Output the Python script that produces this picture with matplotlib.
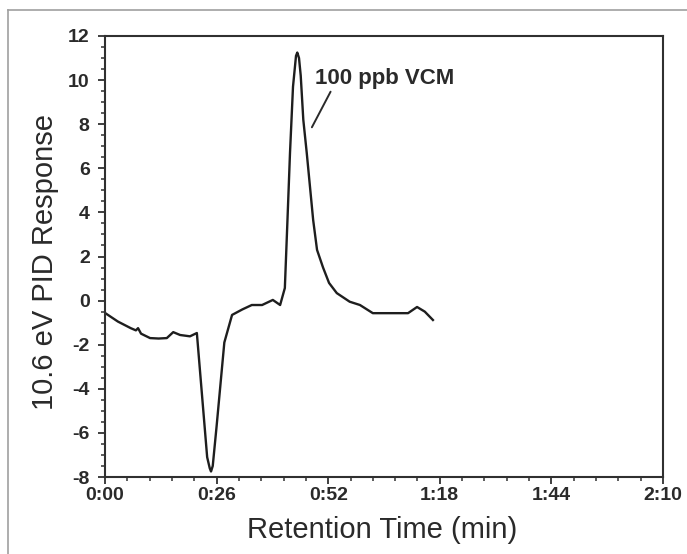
import matplotlib
matplotlib.use("Agg")
import matplotlib.pyplot as plt
from matplotlib.lines import Line2D
from matplotlib.ticker import FuncFormatter, MultipleLocator

# Retention time (s) and PID response
time_s = [0, 3, 6, 7.2, 7.7, 8.4, 10.5, 12.5, 14.4, 15.9, 17.5, 19.8,
          21.4, 23.8, 24.4, 24.7, 25.1, 26.0, 27.8, 29.6, 32.0, 34.2,
          36.6, 39.1, 40.8, 41.9, 42.5, 43.1, 43.8, 44.5, 44.8, 45.2,
          45.6, 46.2, 47.0, 48.5, 49.4, 50.8, 52.2, 54.0, 57.0, 59.4,
          62.4, 70.6, 72.7, 74.5, 76.4]
response = [-0.56, -0.95, -1.25, -1.35, -1.25, -1.5, -1.7, -1.72, -1.7,
            -1.43, -1.56, -1.62, -1.47, -7.1, -7.6, -7.75, -7.5, -5.7,
            -1.9, -0.65, -0.4, -0.2, -0.2, 0.03, -0.2, 0.57, 3.6, 6.7,
            9.7, 11.1, 11.25, 11.0, 10.2, 8.2, 6.7, 3.65, 2.3, 1.5, 0.8,
            0.34, -0.05, -0.2, -0.57, -0.57, -0.29, -0.5, -0.88]

x_major = 26
y_major = 2
peak_label = "100 ppb VCM"


def mmss(v, pos):
    v = int(round(v))
    return f"{v // 60}:{v % 60:02d}"


plt.rcParams['font.family'] = ['Liberation Sans', 'DejaVu Sans']
plt.rcParams['axes.unicode_minus'] = False

fig = plt.figure(figsize=(6.87, 5.54), dpi=100)
ax = fig.add_axes([105 / 687, 77 / 554, 558 / 687, 441 / 554])

# page frame (only top/left visible in the crop)
fig.add_artist(Line2D([8 / 687, 1.0], [1 - 10 / 554] * 2,
                      transform=fig.transFigure, color="#a0a0a0", lw=1.2))
fig.add_artist(Line2D([8 / 687] * 2, [0.0, 1 - 10 / 554],
                      transform=fig.transFigure, color="#a0a0a0", lw=1.2))

ax.plot(time_s, response, color="#1e1e1e", lw=1.7, solid_joinstyle="round")

ax.set_xlim(0, 130)
ax.set_ylim(-8, 12)
ax.xaxis.set_major_locator(MultipleLocator(x_major))
ax.xaxis.set_minor_locator(MultipleLocator(x_major / 5))
ax.yaxis.set_major_locator(MultipleLocator(y_major))
ax.yaxis.set_minor_locator(MultipleLocator(0.5))
ax.xaxis.set_major_formatter(FuncFormatter(mmss))

for s in ax.spines.values():
    s.set_linewidth(1.5)
    s.set_color("#303030")

ax.tick_params(which="major", direction="out", length=5, width=1.3,
               color="#303030", labelsize=14)
ax.tick_params(axis="x", which="major", pad=2)
ax.tick_params(axis="y", which="major", pad=6)
ax.tick_params(which="minor", direction="out", length=3, width=1.1,
               color="#303030")
for lbl in ax.get_xticklabels() + ax.get_yticklabels():
    lbl.set_fontweight("bold")
    lbl.set_color("#2a2a2a")

ax.set_xlabel("Retention Time (min)", fontsize=21, color="#2a2a2a")
ax.set_ylabel("10.6 eV PID Response", fontsize=21, color="#2a2a2a")
ax.xaxis.set_label_coords(0.496, -0.088)
ax.yaxis.set_label_coords(-0.083, 0.488)

ax.annotate(peak_label, xy=(48.2, 7.86), xytext=(49.0, 9.6),
            fontsize=16, fontweight="bold", color="#2a2a2a",
            ha="left", va="bottom",
            arrowprops=dict(arrowstyle="-", color="#2a2a2a", lw=1.4,
                            shrinkA=0, shrinkB=0, relpos=(0.12, 0.0)))

fig.savefig("out.png", dpi=100, facecolor="white")
